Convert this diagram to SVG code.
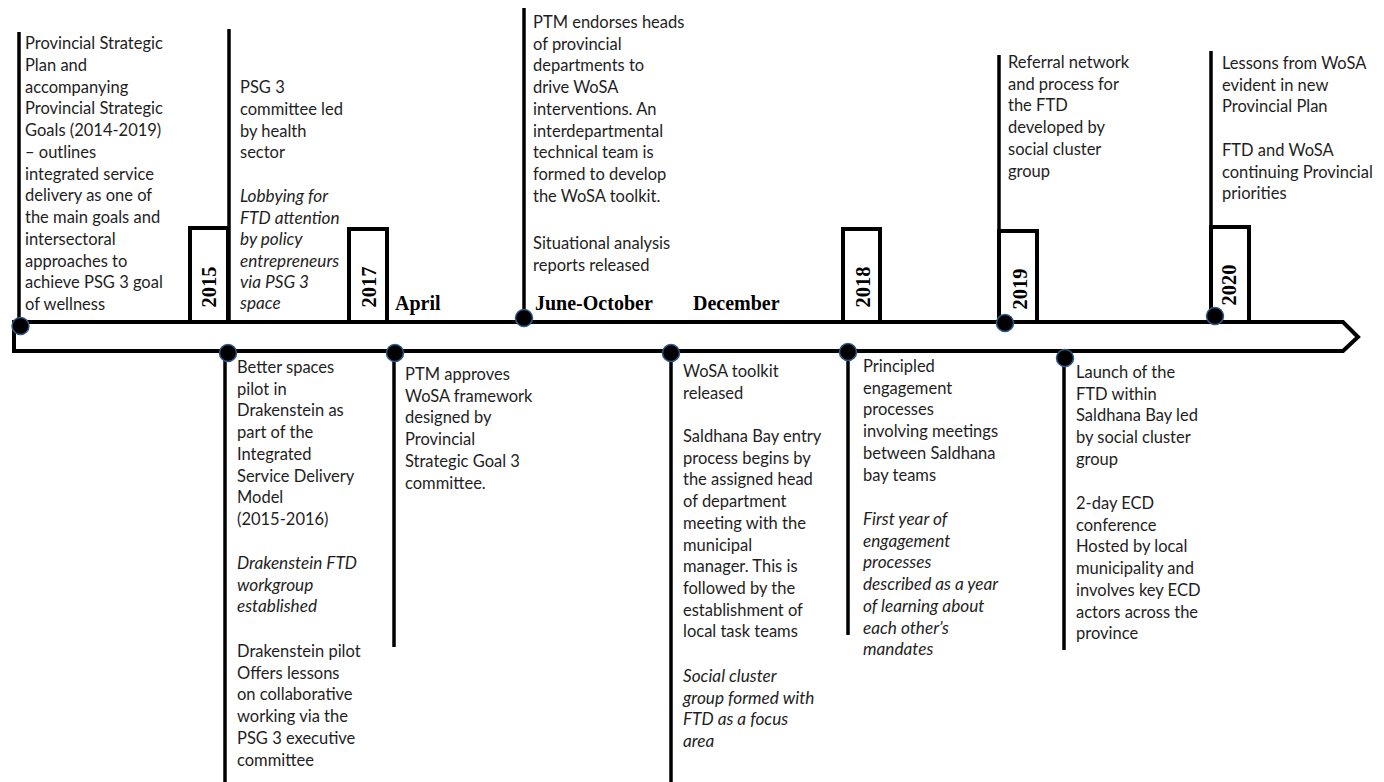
<svg xmlns="http://www.w3.org/2000/svg" width="1384" height="782" viewBox="0 0 1384 782">
<style>
.bg{fill:#ffffff}
.ln{stroke:#000;stroke-width:3.5;fill:none}
.tl{stroke:#000;stroke-width:4;fill:#fff}
.box{stroke:#000;stroke-width:4;fill:#fff}
.dot{fill:#000;stroke:#2e5a8a;stroke-width:1.5}
.t{font-family:Lato,"Open Sans","Liberation Sans",sans-serif;font-size:16.5px;fill:#1e1e1e}
.i{font-style:italic;font-size:17.2px}
.yr{font-family:"Liberation Serif","Times New Roman",serif;font-weight:bold;font-size:20.5px;fill:#000;text-anchor:middle}
.mo{font-family:"Liberation Serif","Times New Roman",serif;font-weight:bold;font-size:20px;fill:#000}
</style>
<rect class="bg" x="0" y="0" width="1384" height="782"/>

<g id="connectors">
  <line class="ln" x1="19" y1="32" x2="19" y2="322"/>
  <line class="ln" x1="229" y1="29" x2="229" y2="322"/>
  <line class="ln" x1="524" y1="8" x2="524" y2="322"/>
  <line class="ln" x1="999" y1="55" x2="999" y2="232"/>
  <line class="ln" x1="1211" y1="51" x2="1211" y2="228"/>
  <line class="ln" x1="225" y1="352" x2="225" y2="782"/>
  <line class="ln" x1="394" y1="352" x2="394" y2="647"/>
  <line class="ln" x1="671" y1="352" x2="671" y2="782"/>
  <line class="ln" x1="848" y1="352" x2="848" y2="635"/>
  <line class="ln" x1="1064" y1="356" x2="1064" y2="650"/>
</g>

<g id="timeline">
  <polygon class="tl" points="14,322 1343,322 1358,337 1343,351 14,351"/>
</g>

<g id="y2015">
  <rect class="box" x="190" y="228" width="38" height="94"/>
  <text class="yr" transform="translate(216,287) rotate(-90)">2015</text>
</g>
<g id="y2017">
  <rect class="box" x="349" y="229" width="38" height="93"/>
  <text class="yr" transform="translate(376,287) rotate(-90)">2017</text>
</g>
<g id="y2018">
  <rect class="box" x="843" y="229" width="37" height="93"/>
  <text class="yr" transform="translate(870,287) rotate(-90)">2018</text>
</g>
<g id="y2019">
  <rect class="box" x="999" y="231" width="38" height="91"/>
  <text class="yr" transform="translate(1027,289) rotate(-90)">2019</text>
</g>
<g id="y2020">
  <rect class="box" x="1211" y="227" width="38" height="95"/>
  <text class="yr" transform="translate(1236,285) rotate(-90)">2020</text>
</g>

<g id="months">
  <text class="mo" x="395" y="310">April</text>
  <text class="mo" x="535" y="310">June-October</text>
  <text class="mo" x="693" y="310">December</text>
</g>

<g id="dots">
  <circle class="dot" cx="20.5" cy="326" r="8.5"/>
  <circle class="dot" cx="524" cy="318" r="8.5"/>
  <circle class="dot" cx="1005" cy="323" r="8.5"/>
  <circle class="dot" cx="1215" cy="316" r="8.5"/>
  <circle class="dot" cx="228" cy="353" r="8.5"/>
  <circle class="dot" cx="395" cy="353" r="8.5"/>
  <circle class="dot" cx="671" cy="353" r="8.5"/>
  <circle class="dot" cx="848" cy="352" r="8.5"/>
  <circle class="dot" cx="1065" cy="358" r="8.5"/>
</g>

<g id="n1">
  <text class="t">
    <tspan x="25" y="49">Provincial Strategic</tspan>
    <tspan x="25" y="70.75">Plan and</tspan>
    <tspan x="25" y="92.5">accompanying</tspan>
    <tspan x="25" y="114.25">Provincial Strategic</tspan>
    <tspan x="25" y="136">Goals (2014-2019)</tspan>
    <tspan x="25" y="157.75">– outlines</tspan>
    <tspan x="25" y="179.5">integrated service</tspan>
    <tspan x="25" y="201.25">delivery as one of</tspan>
    <tspan x="25" y="223">the main goals and</tspan>
    <tspan x="25" y="244.75">intersectoral</tspan>
    <tspan x="25" y="266.5">approaches to</tspan>
    <tspan x="25" y="288.25">achieve PSG 3 goal</tspan>
    <tspan x="25" y="310">of wellness</tspan>
  </text>
</g>

<g id="n2">
  <text class="t">
    <tspan x="240" y="93">PSG 3</tspan>
    <tspan x="240" y="115">committee led</tspan>
    <tspan x="240" y="136.5">by health</tspan>
    <tspan x="240" y="158">sector</tspan>
  </text>
  <text class="t i">
    <tspan x="240" y="202">Lobbying for</tspan>
    <tspan x="240" y="223.5">FTD attention</tspan>
    <tspan x="240" y="245">by policy</tspan>
    <tspan x="240" y="266.5">entrepreneurs</tspan>
    <tspan x="240" y="288">via PSG 3</tspan>
    <tspan x="240" y="309">space</tspan>
  </text>
</g>

<g id="n3">
  <text class="t">
    <tspan x="533" y="28">PTM endorses heads</tspan>
    <tspan x="533" y="49.7">of provincial</tspan>
    <tspan x="533" y="71.4">departments to</tspan>
    <tspan x="533" y="93.1">drive WoSA</tspan>
    <tspan x="533" y="114.8">interventions. An</tspan>
    <tspan x="533" y="136.5">interdepartmental</tspan>
    <tspan x="533" y="158.2">technical team is</tspan>
    <tspan x="533" y="179.9">formed to develop</tspan>
    <tspan x="533" y="201.6">the WoSA toolkit.</tspan>
    <tspan x="533" y="249">Situational analysis</tspan>
    <tspan x="533" y="270.5">reports released</tspan>
  </text>
</g>

<g id="n4">
  <text class="t">
    <tspan x="1008" y="68">Referral network</tspan>
    <tspan x="1008" y="89.7">and process for</tspan>
    <tspan x="1008" y="111.4">the FTD</tspan>
    <tspan x="1008" y="133.1">developed by</tspan>
    <tspan x="1008" y="154.8">social cluster</tspan>
    <tspan x="1008" y="176.5">group</tspan>
  </text>
</g>

<g id="n5">
  <text class="t">
    <tspan x="1222" y="69">Lessons from WoSA</tspan>
    <tspan x="1222" y="90.7">evident in new</tspan>
    <tspan x="1222" y="112.4">Provincial Plan</tspan>
    <tspan x="1222" y="156">FTD and WoSA</tspan>
    <tspan x="1222" y="177.7">continuing Provincial</tspan>
    <tspan x="1222" y="199.4">priorities</tspan>
  </text>
</g>

<g id="n6">
  <text class="t">
    <tspan x="237" y="373">Better spaces</tspan>
    <tspan x="237" y="394.7">pilot in</tspan>
    <tspan x="237" y="416.4">Drakenstein as</tspan>
    <tspan x="237" y="438.1">part of the</tspan>
    <tspan x="237" y="459.8">Integrated</tspan>
    <tspan x="237" y="481.5">Service Delivery</tspan>
    <tspan x="237" y="503.2">Model</tspan>
    <tspan x="237" y="524.9">(2015-2016)</tspan>
  </text>
  <text class="t i">
    <tspan x="237" y="569">Drakenstein FTD</tspan>
    <tspan x="237" y="590.7">workgroup</tspan>
    <tspan x="237" y="612.4">established</tspan>
  </text>
  <text class="t">
    <tspan x="237" y="657">Drakenstein pilot</tspan>
    <tspan x="237" y="678.7">Offers lessons</tspan>
    <tspan x="237" y="700.4">on collaborative</tspan>
    <tspan x="237" y="722.1">working via the</tspan>
    <tspan x="237" y="743.8">PSG 3 executive</tspan>
    <tspan x="237" y="765.5">committee</tspan>
  </text>
</g>

<g id="n7">
  <text class="t">
    <tspan x="405" y="380">PTM approves</tspan>
    <tspan x="405" y="401.7">WoSA framework</tspan>
    <tspan x="405" y="423.4">designed by</tspan>
    <tspan x="405" y="445.1">Provincial</tspan>
    <tspan x="405" y="466.8">Strategic Goal 3</tspan>
    <tspan x="405" y="488.5">committee.</tspan>
  </text>
</g>

<g id="n8">
  <text class="t">
    <tspan x="683" y="377">WoSA toolkit</tspan>
    <tspan x="683" y="398.7">released</tspan>
    <tspan x="683" y="442">Saldhana Bay entry</tspan>
    <tspan x="683" y="463.7">process begins by</tspan>
    <tspan x="683" y="485.4">the assigned head</tspan>
    <tspan x="683" y="507.1">of department</tspan>
    <tspan x="683" y="528.8">meeting with the</tspan>
    <tspan x="683" y="550.5">municipal</tspan>
    <tspan x="683" y="572.2">manager. This is</tspan>
    <tspan x="683" y="593.9">followed by the</tspan>
    <tspan x="683" y="615.6">establishment of</tspan>
    <tspan x="683" y="637.3">local task teams</tspan>
  </text>
  <text class="t i">
    <tspan x="683" y="682">Social cluster</tspan>
    <tspan x="683" y="703.7">group formed with</tspan>
    <tspan x="683" y="725.4">FTD as a focus</tspan>
    <tspan x="683" y="747.1">area</tspan>
  </text>
</g>

<g id="n9">
  <text class="t">
    <tspan x="863" y="372">Principled</tspan>
    <tspan x="863" y="393.7">engagement</tspan>
    <tspan x="863" y="415.4">processes</tspan>
    <tspan x="863" y="437.1">involving meetings</tspan>
    <tspan x="863" y="458.8">between Saldhana</tspan>
    <tspan x="863" y="480.5">bay teams</tspan>
  </text>
  <text class="t i">
    <tspan x="863" y="525">First year of</tspan>
    <tspan x="863" y="546.7">engagement</tspan>
    <tspan x="863" y="568.4">processes</tspan>
    <tspan x="863" y="590.1">described as a year</tspan>
    <tspan x="863" y="611.8">of learning about</tspan>
    <tspan x="863" y="633.5">each other’s</tspan>
    <tspan x="863" y="655.2">mandates</tspan>
  </text>
</g>

<g id="n10">
  <text class="t">
    <tspan x="1076" y="378">Launch of the</tspan>
    <tspan x="1076" y="399.7">FTD within</tspan>
    <tspan x="1076" y="421.4">Saldhana Bay led</tspan>
    <tspan x="1076" y="443.1">by social cluster</tspan>
    <tspan x="1076" y="464.8">group</tspan>
    <tspan x="1076" y="509">2-day ECD</tspan>
    <tspan x="1076" y="530.7">conference</tspan>
    <tspan x="1076" y="552.4">Hosted by local</tspan>
    <tspan x="1076" y="574.1">municipality and</tspan>
    <tspan x="1076" y="595.8">involves key ECD</tspan>
    <tspan x="1076" y="617.5">actors across the</tspan>
    <tspan x="1076" y="639.2">province</tspan>
  </text>
</g>
</svg>
